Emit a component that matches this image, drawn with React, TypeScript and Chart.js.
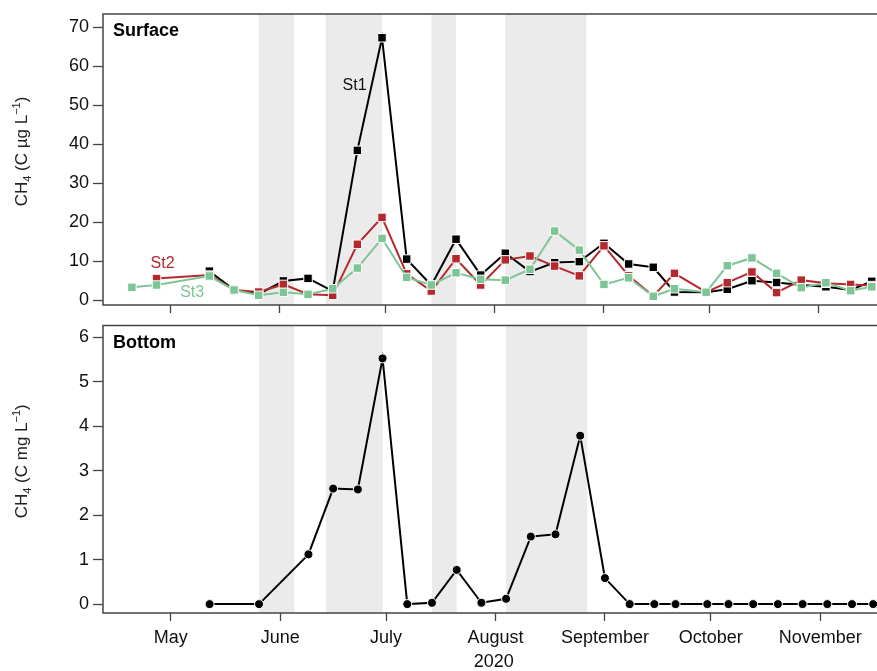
import React, { useEffect, useRef } from 'react';
import { Chart, registerables } from 'chart.js';

Chart.register(...registerables);

// ---- Data ----
const sampleDates = [
  '2020-04-20', '2020-04-27', '2020-05-12', '2020-05-19', '2020-05-26', '2020-06-02',
  '2020-06-09', '2020-06-16', '2020-06-23', '2020-06-30', '2020-07-07', '2020-07-14',
  '2020-07-21', '2020-07-28', '2020-08-04', '2020-08-11', '2020-08-18', '2020-08-25',
  '2020-09-01', '2020-09-08', '2020-09-15', '2020-09-21', '2020-09-30', '2020-10-06',
  '2020-10-13', '2020-10-20', '2020-10-27', '2020-11-03', '2020-11-10', '2020-11-16',
];

// Surface CH4 (C µg L-1)
const st1Surface = [
  null, null, 7.4, 2.6, 1.5, 4.9, 5.55, 2.3, 38.4, 67.3, 10.5, 3.8, 15.6, 6.4, 12.0,
  7.3, 9.6, 9.85, 14.55, 9.25, 8.4, 2.05, 2.0, 2.75, 4.95, 4.5, 3.85, 3.4, 2.6, 4.8,
];
const st2Surface = [
  null, 5.5, 6.4, 2.6, 2.05, 4.0, 1.5, 1.2, 14.3, 21.2, 6.7, 2.3, 10.6, 3.85, 10.3,
  11.3, 8.7, 6.2, 13.9, 6.2, 1.0, 6.85, 2.0, 4.45, 7.2, 1.9, 5.1, 4.3, 4.0, 3.7,
];
const st3Surface = [
  3.26, 3.85, 6.16, 2.57, 1.2, 1.97, 1.45, 2.9, 8.2, 15.8, 5.8, 3.85, 7.0, 5.3, 5.1,
  7.9, 17.7, 12.8, 4.0, 5.7, 0.95, 2.9, 2.0, 8.8, 10.8, 6.85, 3.17, 4.45, 2.4, 3.4,
];

// Bottom CH4 (C mg L-1)
const bottomValues = [
  null, null, 0, null, 0, null, 1.12, 2.6, 2.58, 5.53, 0, 0.03, 0.77, 0.03, 0.12,
  1.52, 1.57, 3.79, 0.585, 0, 0, 0, 0, 0, 0, 0, 0, 0, 0, 0,
];

const monthTickDates = ['2020-05-01', '2020-06-01', '2020-07-01', '2020-08-01', '2020-09-01', '2020-10-01', '2020-11-01'];
const monthTickLabels = ['May', 'June', 'July', 'August', 'September', 'October', 'November'];
const surfaceTicks = [0, 10, 20, 30, 40, 50, 60, 70];
const bottomTicks = [0, 1, 2, 3, 4, 5, 6];

const shadedStart = ['2020-05-26', '2020-06-14', '2020-07-14', '2020-08-04'];
const shadedEnd = ['2020-06-05', '2020-06-30', '2020-07-21', '2020-08-27'];

// Axis titles: [main, subscript, main, superscript, main]
const surfaceTitleParts = ['CH', '4', ' (C µg L', '−1', ')'];
const bottomTitleParts = ['CH', '4', ' (C mg L', '−1', ')'];

// ---- Styling ----
const FONT = "'Liberation Sans', Arial, Helvetica, sans-serif";
const BLACK = '#000000';
const RED = '#b5282d';
const GREEN = '#7dc594';
const SHADE = '#ebebeb';

function doy(s: string): number {
  const [y, m, d] = s.split('-').map(Number);
  return Math.round((Date.UTC(y, m - 1, d) - Date.UTC(y, 0, 1)) / 86400000) + 1;
}

const X_MIN = 102.8;
const X_MAX = 324.2;

function xScale(showLabels: boolean, height: number) {
  const tickDays = monthTickDates.map(doy);
  return {
    type: 'linear',
    min: X_MIN,
    max: X_MAX,
    afterBuildTicks: (s: any) => {
      s.ticks = tickDays.map((v) => ({ value: v }));
    },
    afterFit: (s: any) => {
      s.height = height;
      s.paddingLeft = 0;
      s.paddingRight = 0;
    },
    grid: { drawOnChartArea: false, drawTicks: true, tickLength: 8, tickColor: '#444', tickWidth: 1.3 },
    border: { display: false },
    ticks: {
      display: showLabels,
      padding: 6,
      autoSkip: false,
      maxRotation: 0,
      font: { family: FONT, size: 18 },
      color: '#111',
      callback: (v: any) => {
        const i = tickDays.indexOf(v);
        return i >= 0 ? monthTickLabels[i] : '';
      },
    },
    title: {
      display: showLabels,
      text: '2020',
      font: { family: FONT, size: 18, lineHeight: 1 },
      color: '#111',
      padding: { top: 0, bottom: 0 },
    },
  };
}

function yScale(min: number, max: number, ticks: number[]) {
  return {
    type: 'linear',
    min,
    max,
    afterBuildTicks: (s: any) => {
      s.ticks = ticks.map((v) => ({ value: v }));
    },
    afterFit: (s: any) => {
      s.width = 103;
      s.paddingTop = 0;
      s.paddingBottom = 0;
    },
    grid: { drawOnChartArea: false, drawTicks: true, tickLength: 10, tickColor: '#444', tickWidth: 1.3 },
    border: { display: false },
    ticks: {
      padding: 4,
      font: { family: FONT, size: 18 },
      color: '#111',
      callback: (v: any) => String(v),
    },
    title: { display: false },
  };
}

type Note = { text: string; day: number; value: number; color: string; size: number };

function drawYTitle(ctx: CanvasRenderingContext2D, parts: string[], cx: number, cy: number) {
  const mainFont = `17px ${FONT}`;
  const smallFont = `11px ${FONT}`;
  const fonts = [mainFont, smallFont, mainFont, smallFont, mainFont];
  const shifts = [0, 3.5, 0, -7.5, 0];
  ctx.save();
  ctx.translate(cx, cy);
  ctx.rotate(-Math.PI / 2);
  ctx.fillStyle = '#222';
  ctx.textAlign = 'left';
  ctx.textBaseline = 'alphabetic';
  const widths = parts.map((p, i) => {
    ctx.font = fonts[i];
    return ctx.measureText(p).width;
  });
  const total = widths.reduce((a, b) => a + b, 0);
  let x = -total / 2;
  parts.forEach((p, i) => {
    ctx.font = fonts[i];
    ctx.fillText(p, x, shifts[i]);
    x += widths[i];
  });
  ctx.restore();
}

function decorPlugin(panelTitle: string, titleParts: string[], notes: Note[]) {
  return {
    id: 'decor',
    beforeDatasetsDraw(chart: any) {
      const { ctx, chartArea: a, scales } = chart;
      const x = scales.x;
      ctx.save();
      ctx.fillStyle = SHADE;
      shadedStart.forEach((s, i) => {
        const x1 = x.getPixelForValue(doy(s));
        const x2 = x.getPixelForValue(doy(shadedEnd[i]));
        ctx.fillRect(x1, a.top, x2 - x1, a.bottom - a.top);
      });
      ctx.restore();
    },
    afterDraw(chart: any) {
      const { ctx, chartArea: a, scales } = chart;
      ctx.save();
      ctx.strokeStyle = '#444';
      ctx.lineWidth = 1.5;
      ctx.strokeRect(a.left, a.top, a.right - a.left, a.bottom - a.top);
      ctx.fillStyle = '#000';
      ctx.font = `bold 18px ${FONT}`;
      ctx.textAlign = 'left';
      ctx.textBaseline = 'alphabetic';
      ctx.fillText(panelTitle, a.left + 10, a.top + 22);
      notes.forEach((n) => {
        ctx.fillStyle = n.color;
        ctx.font = `${n.size}px ${FONT}`;
        ctx.fillText(n.text, scales.x.getPixelForValue(n.day), scales.y.getPixelForValue(n.value));
      });
      ctx.restore();
      drawYTitle(ctx, titleParts, 27, (a.top + a.bottom) / 2 - 8);
    },
  };
}

function series(label: string, values: (number | null)[], color: string, style: string, radius: number) {
  return {
    label,
    data: sampleDates.map((d, i) => ({ x: doy(d), y: values[i] })),
    borderColor: color,
    backgroundColor: color,
    borderWidth: 2,
    tension: 0,
    spanGaps: true,
    pointStyle: style,
    pointRadius: radius,
    pointBackgroundColor: color,
    pointBorderColor: '#ffffff',
    pointBorderWidth: 1,
    clip: false,
  };
}

function baseOptions(scales: any, padTop: number) {
  return {
    responsive: false,
    animation: false,
    devicePixelRatio: 1,
    events: [],
    layout: { padding: { left: 0, right: 3, top: padTop, bottom: 0 } },
    plugins: { legend: { display: false }, tooltip: { enabled: false } },
    scales,
  };
}

export default function App() {
  const topRef = useRef<HTMLCanvasElement>(null);
  const botRef = useRef<HTMLCanvasElement>(null);

  useEffect(() => {
    const top = new Chart(topRef.current as HTMLCanvasElement, {
      type: 'line',
      data: {
        datasets: [
          series('St3', st3Surface, GREEN, 'rect', 6),
          series('St2', st2Surface, RED, 'rect', 6),
          series('St1', st1Surface, BLACK, 'rect', 6),
        ],
      } as any,
      options: baseOptions({ x: xScale(false, 15), y: yScale(-1.28, 73.4, surfaceTicks) }, 14) as any,
      plugins: [
        decorPlugin('Surface', surfaceTitleParts, [
          { text: 'St1', day: 170.8, value: 53.9, color: '#111', size: 16 },
          { text: 'St2', day: 116.3, value: 8.2, color: RED, size: 16 },
          { text: 'St3', day: 124.7, value: 0.77, color: GREEN, size: 16 },
        ]) as any,
      ],
    });

    const bottom = new Chart(botRef.current as HTMLCanvasElement, {
      type: 'line',
      data: {
        datasets: [series('Bottom', bottomValues, BLACK, 'circle', 4.5)],
      } as any,
      options: baseOptions({ x: xScale(true, 58), y: yScale(-0.2, 6.27, bottomTicks) }, 2) as any,
      plugins: [decorPlugin('Bottom', bottomTitleParts, []) as any],
    });

    return () => {
      top.destroy();
      bottom.destroy();
    };
  }, []);

  return (
    <div
      style={{
        position: 'fixed',
        left: 0,
        top: 0,
        width: 877,
        height: 671,
        overflow: 'hidden',
        background: '#ffffff',
      }}
    >
      <canvas
        ref={topRef}
        width={890}
        height={320}
        style={{ position: 'absolute', left: 0, top: 0, width: 890, height: 320 }}
      />
      <canvas
        ref={botRef}
        width={890}
        height={351}
        style={{ position: 'absolute', left: 0, top: 320, width: 890, height: 351 }}
      />
    </div>
  );
}
